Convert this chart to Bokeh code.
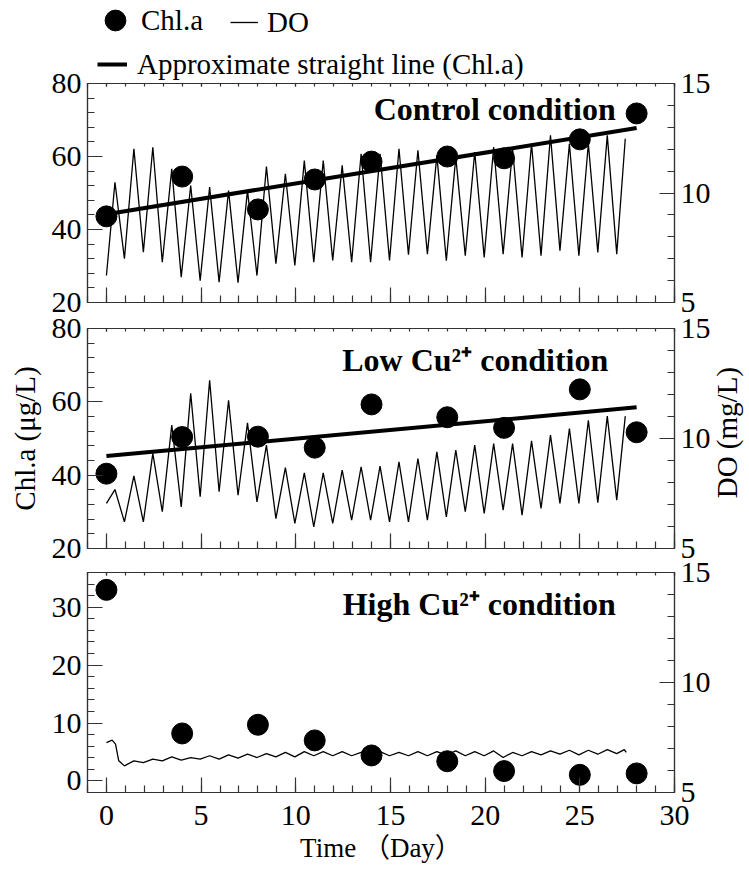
import math
from bokeh.plotting import figure
from bokeh.models import (Range1d, LinearAxis, SingleIntervalTicker,
                          Legend, LegendItem, Label, CustomJSTickFormatter)
from bokeh.layouts import column
from bokeh.embed import file_html
from bokeh.resources import INLINE

# ---------------- data ----------------
days = [0, 4, 8, 11, 14, 18, 21, 25, 28]
chl_control = [43.6, 54.5, 45.5, 53.7, 58.6, 60.0, 59.5, 64.7, 71.8]
chl_low = [40.4, 50.4, 50.5, 47.5, 59.3, 55.8, 52.9, 63.4, 51.7]
chl_high = [33.0, 8.2, 9.7, 7.0, 4.4, 3.4, 1.7, 1.05, 1.3]

fit_days = [0, 28]
fit_control = [44.2, 67.8]
fit_low = [45.2, 58.5]

do_time = [0, 0.45, 0.95, 1.45, 1.95, 2.45, 2.95, 3.45, 3.95, 4.45, 4.95,
           5.45, 5.95, 6.45, 6.95, 7.45, 7.95, 8.45, 8.95, 9.45, 9.95,
           10.45, 10.95, 11.45, 11.95, 12.45, 12.95, 13.45, 13.95, 14.45,
           14.95, 15.45, 15.95, 16.45, 16.95, 17.45, 17.95, 18.45, 18.95,
           19.45, 19.95, 20.45, 20.95, 21.45, 21.95, 22.45, 22.95, 23.45,
           23.95, 24.45, 24.95, 25.45, 25.95, 26.45, 26.95, 27.4]
do_control = [6.23,
              10.49, 7.00, 12.02, 7.30, 12.09, 6.84, 11.10, 6.16, 10.34, 6.00,
              10.27, 5.93, 10.11, 5.90, 10.11, 6.23, 11.21, 6.77, 10.88, 6.69,
              11.48, 6.84, 11.48, 6.92, 11.26, 6.84, 11.79, 6.84, 11.79, 6.92,
              12.02, 7.18, 11.95, 7.21, 11.72, 6.91, 11.64, 7.14, 11.87, 7.06,
              12.10, 7.21, 12.02, 7.06, 12.25, 7.14, 12.63, 7.37, 12.25, 7.14,
              12.25, 7.29, 12.63, 7.21,
              12.48]
do_low = [7.05,
          7.68, 6.21, 8.30, 6.21, 9.32, 6.67, 10.61, 6.89, 12.05, 7.35,
          12.65, 7.58, 11.74, 7.42, 10.71, 7.12, 9.70, 6.36, 8.68, 6.14,
          8.44, 5.98, 8.44, 6.14, 8.56, 6.29, 8.71, 6.29, 8.74, 6.21,
          8.94, 6.21, 9.09, 6.29, 9.39, 6.44, 9.47, 6.67, 9.70, 6.59,
          9.77, 6.74, 9.77, 6.52, 9.89, 6.82, 10.15, 7.05, 10.45, 7.05,
          10.83, 7.08, 11.02, 7.20,
          11.02]

do_high_time = [0, 0.3, 0.48, 0.65, 0.95,
                1.45, 1.95, 2.45, 2.95, 3.45, 3.95, 4.45, 4.95, 5.45, 5.95,
                6.45, 6.95, 7.45, 7.95, 8.45, 8.95, 9.45, 9.95, 10.45, 10.95,
                11.45, 11.95, 12.45, 12.95, 13.45, 13.95, 14.45, 14.95, 15.45,
                15.95, 16.45, 16.95, 17.45, 17.95, 18.45, 18.95, 19.45, 19.95,
                20.45, 20.95, 21.45, 21.95, 22.45, 22.95, 23.45, 23.95, 24.45,
                24.95, 25.45, 25.95, 26.45, 26.95,
                27.35, 27.45]
do_high = [7.27, 7.38, 7.20, 6.44, 6.21,
           6.44, 6.36, 6.52, 6.44, 6.62, 6.47, 6.59, 6.52, 6.67, 6.52,
           6.71, 6.56, 6.74, 6.59, 6.77, 6.62, 6.82, 6.62, 6.86, 6.67,
           6.86, 6.67, 6.86, 6.67, 6.82, 6.67, 6.86, 6.67, 6.82,
           6.67, 6.86, 6.67, 6.86, 6.70, 6.89, 6.67, 6.86, 6.67,
           6.89, 6.59, 6.82, 6.67, 6.86, 6.71, 6.89, 6.74, 6.92,
           6.71, 6.92, 6.74, 6.95, 6.77,
           6.95, 6.82]

titles = ["Control condition", "Low Cu\u00b2\u207a condition", "High Cu\u00b2\u207a condition"]
legend_labels = ["Chl.a", "DO", "Approximate straight line (Chl.a)"]
y_title_chl = "Chl.a (\u03bcg/L)"
y_title_do = "DO (mg/L)"
x_title = "Time \uff08Day\uff09"

# ---------------- styling ----------------
FONT = "Liberation Serif"
SERIF_CJK = "'Liberation Serif', 'Noto Sans CJK JP'"
AX = "#333333"
TICK_FS = "30px"
FRAME_W = 587
BL, BR = 87, 75
PAD = 25

blank = CustomJSTickFormatter(code="return ''")


def style_axis(ax, major_in, minor_in):
    ax.major_tick_in = major_in
    ax.major_tick_out = 0
    ax.minor_tick_in = minor_in
    ax.minor_tick_out = 0
    ax.axis_line_color = AX
    ax.axis_line_width = 1.2
    ax.major_tick_line_color = AX
    ax.minor_tick_line_color = AX
    ax.major_tick_line_width = 1.2
    ax.minor_tick_line_width = 1.2
    ax.major_label_text_font = FONT
    ax.major_label_text_font_size = TICK_FS
    ax.major_label_text_color = "black"
    ax.axis_label_text_font_style = "normal"
    ax.axis_label_text_color = "black"


def make_panel(yr, y_int, frame_h, top, bottom, x_labels):
    p = figure(output_backend="svg", toolbar_location=None,
               x_range=Range1d(-1, 30), y_range=Range1d(*yr),
               frame_width=FRAME_W, frame_height=frame_h,
               min_border_left=BL, min_border_right=BR,
               min_border_top=top, min_border_bottom=bottom,
               x_axis_location=None, y_axis_location=None)
    p.extra_y_ranges = {"do": Range1d(5, 15)}
    p.grid.visible = False
    p.outline_line_color = AX
    p.outline_line_width = 1.2
    p.background_fill_color = "white"
    p.border_fill_alpha = 0

    left = LinearAxis(ticker=SingleIntervalTicker(interval=y_int, num_minor_ticks=5))
    style_axis(left, 15, 7)
    left.major_label_standoff = 6
    p.add_layout(left, "left")

    right = LinearAxis(y_range_name="do",
                       ticker=SingleIntervalTicker(interval=5, num_minor_ticks=5))
    style_axis(right, 15, 7)
    right.major_label_standoff = 6
    p.add_layout(right, "right")

    below = LinearAxis(ticker=SingleIntervalTicker(interval=5, num_minor_ticks=5))
    style_axis(below, 15, 7)
    below.major_label_standoff = 13
    if not x_labels:
        below.formatter = blank
        below.major_label_text_font_size = "1px"
        below.major_label_standoff = 0
    p.add_layout(below, "below")

    above = LinearAxis(ticker=SingleIntervalTicker(interval=5, num_minor_ticks=5),
                       formatter=blank)
    style_axis(above, 3, 3)
    above.major_label_text_font_size = "1px"
    above.major_label_standoff = 0
    p.add_layout(above, "above")
    return p, left, right, below


def add_title(p, x, y, text):
    p.add_layout(Label(x=x, y=y, text=text, text_align="right",
                       text_baseline="alphabetic", text_font=FONT,
                       text_color="black", text_font_style="bold",
                       text_font_size="32px"))


# ---------------- legend strip (top) ----------------
p0 = figure(output_backend="svg", toolbar_location=None,
            frame_width=FRAME_W, frame_height=85,
            min_border_left=BL, min_border_right=BR,
            min_border_top=0, min_border_bottom=0,
            x_range=Range1d(-1, 30), y_range=Range1d(0, 1),
            x_axis_location=None, y_axis_location=None)
p0.grid.visible = False
p0.outline_line_color = None
p0.background_fill_alpha = 0
p0.border_fill_alpha = 0
# legend proxies: same data, lying outside this strip's (empty) y range
g_chl = p0.scatter(days, chl_control, size=21, fill_color="black", line_color="black")
g_do = p0.line(do_time, do_control, line_color="black", line_width=1.3)
g_fit = p0.line(fit_days, fit_control, line_color="black", line_width=4)

common_leg = dict(padding=0, margin=0, spacing=0, background_fill_alpha=0,
                  border_line_alpha=0, label_text_font=FONT,
                  label_text_font_size="29px", label_text_color="black")
leg_a = Legend(items=[LegendItem(label=legend_labels[0], renderers=[g_chl])],
               location=(2, 38), glyph_width=52, glyph_height=54,
               label_standoff=0, **common_leg)
leg_b = Legend(items=[LegendItem(label=legend_labels[1], renderers=[g_do])],
               location=(143, 43), glyph_width=28, glyph_height=40,
               label_standoff=9, **common_leg)
leg_c = Legend(items=[LegendItem(label=legend_labels[2], renderers=[g_fit])],
               location=(10, 1), glyph_width=30, glyph_height=40,
               label_standoff=10, **common_leg)
for lg in (leg_a, leg_b, leg_c):
    p0.add_layout(lg, "center")

# ---------------- panel 1: control ----------------
p1, l1, r1, b1 = make_panel((20, 80), 20, 219, PAD, PAD, False)
p1.line(do_time, do_control, y_range_name="do", line_color="black", line_width=1.3)
p1.line(fit_days, fit_control, line_color="black", line_width=4)
p1.scatter(days, chl_control, size=21, fill_color="black", line_color="black")
add_title(p1, 26.9, 73.0, titles[0])
p1.margin = (83 - PAD - 85, 0, 0, 0)

# ---------------- panel 2: low Cu ----------------
p2, l2, r2, b2 = make_panel((20, 80), 20, 220, PAD, PAD, False)
p2.line(do_time, do_low, y_range_name="do", line_color="black", line_width=1.3)
p2.line(fit_days, fit_low, line_color="black", line_width=4)
p2.scatter(days, chl_low, size=21, fill_color="black", line_color="black")
add_title(p2, 26.5, 71.3, titles[1])
l2.axis_label = y_title_chl
l2.axis_label_text_font = FONT
l2.axis_label_text_font_size = "29px"
l2.axis_label_standoff = 8
# DO axis title, reading bottom-to-top as in the reference, in the right side panel
p2.add_layout(Label(x=32.75, y=51.6, text=y_title_do, angle=math.pi / 2,
                    text_align="center", text_baseline="middle",
                    text_font=FONT, text_font_size="29px", text_color="black"),
              "right")
p2.margin = (328 - PAD - (302 + PAD), 0, 0, 0)

# ---------------- panel 3: high Cu ----------------
p3, l3, r3, b3 = make_panel((-2, 36), 10, 220, PAD, 81, True)
p3.line(do_high_time, do_high, y_range_name="do", line_color="black", line_width=1.3)
p3.scatter(days, chl_high, size=21, fill_color="black", line_color="black")
add_title(p3, 26.9, 30.5, titles[2])
b3.axis_label = x_title
b3.axis_label_text_font = SERIF_CJK
b3.axis_label_text_font_size = "27px"
b3.axis_label_standoff = 5
p3.margin = (572 - PAD - (548 + PAD), 0, 0, 0)

layout = column(p0, p1, p2, p3, spacing=0)
open("out.html", "w").write(file_html(layout, INLINE))
